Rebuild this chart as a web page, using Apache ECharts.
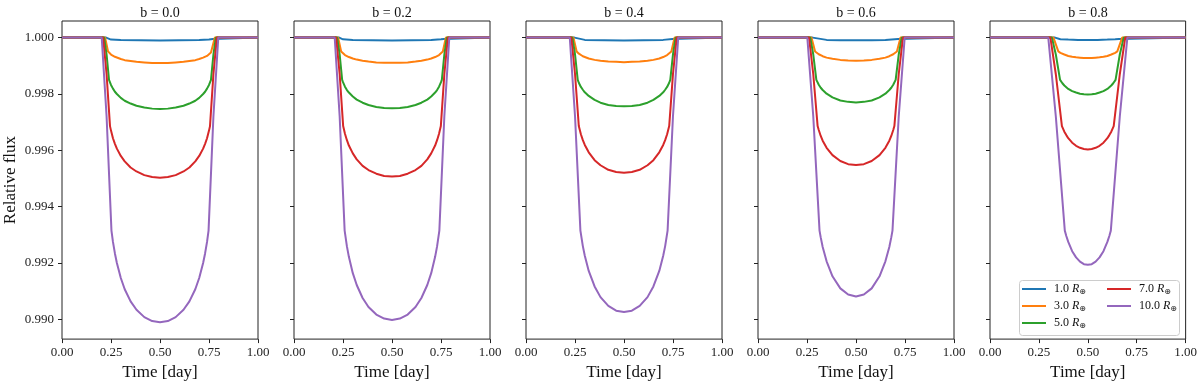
<!DOCTYPE html>
<html>
<head>
<meta charset="utf-8">
<script src="https://cdn.jsdelivr.net/npm/echarts@6/dist/echarts.min.js"></script>
<style>
  html, body { margin: 0; padding: 0; background: #fff; }
  #chart { width: 1200px; height: 386px; }
</style>
</head>
<body>
<div id="chart"></div>
<script>
// impact parameters (one panel each) and planet radii (one curve each)
var impacts = ['0.0', '0.2', '0.4', '0.6', '0.8'];
var radii = ['1.0', '3.0', '5.0', '7.0', '10.0'];
var colors = ['#1f77b4', '#ff7f0e', '#2ca02c', '#d62728', '#9467bd'];
var yTicks = [0.990, 0.992, 0.994, 0.996, 0.998, 1.000];

// b = 0.0  [time, relative flux]
var b0_r1 = [[0,1],[0.2250,1],[0.2300,0.99995],[0.25,0.99993],[0.30,0.99992],[0.40,0.99991],[0.50,0.99990],[0.60,0.99991],[0.70,0.99992],[0.75,0.99993],[0.7700,0.99995],[0.7750,1],[1,1]];
var b0_r3 = [[0,1],[0.2201,1],[0.2349,0.99951],[0.24,0.99947],[0.25,0.99940],[0.26,0.99935],[0.27,0.99932],[0.28,0.99929],[0.30,0.99924],[0.32,0.99920],[0.35,0.99917],[0.38,0.99914],[0.42,0.99912],[0.46,0.99910],[0.50,0.99910],[0.54,0.99910],[0.58,0.99912],[0.62,0.99914],[0.65,0.99917],[0.68,0.99920],[0.70,0.99924],[0.72,0.99929],[0.73,0.99932],[0.74,0.99935],[0.75,0.99940],[0.76,0.99947],[0.7651,0.99951],[0.7799,1],[1,1]];
var b0_r5 = [[0,1],[0.2151,1],[0.2275,0.99940],[0.2399,0.99850],[0.25,0.99832],[0.26,0.99819],[0.27,0.99808],[0.28,0.99800],[0.30,0.99786],[0.32,0.99776],[0.35,0.99766],[0.38,0.99758],[0.42,0.99752],[0.46,0.99748],[0.50,0.99747],[0.54,0.99748],[0.58,0.99752],[0.62,0.99758],[0.65,0.99766],[0.68,0.99776],[0.70,0.99786],[0.72,0.99800],[0.73,0.99808],[0.74,0.99819],[0.75,0.99832],[0.7601,0.99850],[0.7725,0.99940],[0.7849,1],[1,1]];
var b0_r7 = [[0,1],[0.2101,1],[0.2275,0.99870],[0.2449,0.99686],[0.25,0.99670],[0.26,0.99643],[0.27,0.99623],[0.28,0.99606],[0.30,0.99580],[0.32,0.99561],[0.35,0.99539],[0.38,0.99525],[0.42,0.99512],[0.46,0.99505],[0.50,0.99503],[0.54,0.99505],[0.58,0.99512],[0.62,0.99525],[0.65,0.99539],[0.68,0.99561],[0.70,0.99580],[0.72,0.99606],[0.73,0.99623],[0.74,0.99643],[0.75,0.99670],[0.7551,0.99686],[0.7725,0.99870],[0.7899,1],[1,1]];
var b0_r10 = [[0,1],[0.2027,1],[0.2275,0.99720],[0.2523,0.99315],[0.26,0.99275],[0.27,0.99234],[0.28,0.99200],[0.30,0.99147],[0.32,0.99107],[0.35,0.99064],[0.38,0.99034],[0.42,0.99008],[0.46,0.98994],[0.50,0.98990],[0.54,0.98994],[0.58,0.99008],[0.62,0.99034],[0.65,0.99064],[0.68,0.99107],[0.70,0.99147],[0.72,0.99200],[0.73,0.99234],[0.74,0.99275],[0.7477,0.99315],[0.7725,0.99720],[0.7973,1],[1,1]];

// b = 0.2
var b2_r1 = [[0,1],[0.2305,1],[0.2355,0.99995],[0.25,0.99994],[0.30,0.99992],[0.40,0.99991],[0.50,0.99990],[0.60,0.99991],[0.70,0.99992],[0.75,0.99994],[0.7645,0.99995],[0.7695,1],[1,1]];
var b2_r3 = [[0,1],[0.2254,1],[0.2406,0.99951],[0.25,0.99944],[0.26,0.99938],[0.27,0.99934],[0.28,0.99931],[0.30,0.99926],[0.32,0.99922],[0.35,0.99918],[0.38,0.99915],[0.42,0.99912],[0.46,0.99911],[0.50,0.99911],[0.54,0.99911],[0.58,0.99912],[0.62,0.99915],[0.65,0.99918],[0.68,0.99922],[0.70,0.99926],[0.72,0.99931],[0.73,0.99934],[0.74,0.99938],[0.75,0.99944],[0.7594,0.99951],[0.7746,1],[1,1]];
var b2_r5 = [[0,1],[0.2203,1],[0.2330,0.99940],[0.2457,0.99850],[0.25,0.99842],[0.26,0.99826],[0.27,0.99814],[0.28,0.99805],[0.30,0.99791],[0.32,0.99780],[0.35,0.99769],[0.38,0.99761],[0.42,0.99754],[0.46,0.99750],[0.50,0.99749],[0.54,0.99750],[0.58,0.99754],[0.62,0.99761],[0.65,0.99769],[0.68,0.99780],[0.70,0.99791],[0.72,0.99805],[0.73,0.99814],[0.74,0.99826],[0.75,0.99842],[0.7543,0.99850],[0.7670,0.99940],[0.7797,1],[1,1]];
var b2_r7 = [[0,1],[0.2152,1],[0.2330,0.99870],[0.2508,0.99686],[0.26,0.99659],[0.27,0.99636],[0.28,0.99617],[0.30,0.99589],[0.32,0.99568],[0.35,0.99545],[0.38,0.99530],[0.42,0.99517],[0.46,0.99509],[0.50,0.99507],[0.54,0.99509],[0.58,0.99517],[0.62,0.99530],[0.65,0.99545],[0.68,0.99568],[0.70,0.99589],[0.72,0.99617],[0.73,0.99636],[0.74,0.99659],[0.7492,0.99686],[0.7670,0.99870],[0.7848,1],[1,1]];
var b2_r10 = [[0,1],[0.2077,1],[0.2330,0.99720],[0.2584,0.99315],[0.27,0.99259],[0.28,0.99222],[0.30,0.99164],[0.32,0.99122],[0.35,0.99076],[0.38,0.99044],[0.42,0.99017],[0.46,0.99003],[0.50,0.98998],[0.54,0.99003],[0.58,0.99017],[0.62,0.99044],[0.65,0.99076],[0.68,0.99122],[0.70,0.99164],[0.72,0.99222],[0.73,0.99259],[0.7416,0.99315],[0.7670,0.99720],[0.7923,1],[1,1]];

// b = 0.4
var b4_r1 = [[0,1],[0.2475,1],[0.2530,0.99995],[0.30,0.99992],[0.40,0.99991],[0.50,0.99990],[0.60,0.99991],[0.70,0.99992],[0.7470,0.99995],[0.7525,1],[1,1]];
var b4_r3 = [[0,1],[0.2422,1],[0.2584,0.99951],[0.27,0.99943],[0.28,0.99938],[0.29,0.99934],[0.30,0.99931],[0.32,0.99926],[0.35,0.99921],[0.38,0.99918],[0.42,0.99915],[0.46,0.99914],[0.50,0.99913],[0.54,0.99914],[0.58,0.99915],[0.62,0.99918],[0.65,0.99921],[0.68,0.99926],[0.70,0.99931],[0.71,0.99934],[0.72,0.99938],[0.73,0.99943],[0.7416,0.99951],[0.7578,1],[1,1]];
var b4_r5 = [[0,1],[0.2367,1],[0.2502,0.99940],[0.2639,0.99850],[0.27,0.99839],[0.28,0.99825],[0.29,0.99815],[0.30,0.99806],[0.32,0.99793],[0.35,0.99779],[0.38,0.99769],[0.42,0.99761],[0.46,0.99757],[0.50,0.99756],[0.54,0.99757],[0.58,0.99761],[0.62,0.99769],[0.65,0.99779],[0.68,0.99793],[0.70,0.99806],[0.71,0.99815],[0.72,0.99825],[0.73,0.99839],[0.7361,0.99850],[0.7498,0.99940],[0.7633,1],[1,1]];
var b4_r7 = [[0,1],[0.2313,1],[0.2502,0.99870],[0.2694,0.99686],[0.28,0.99657],[0.29,0.99636],[0.30,0.99619],[0.32,0.99593],[0.35,0.99565],[0.38,0.99547],[0.42,0.99531],[0.46,0.99523],[0.50,0.99520],[0.54,0.99523],[0.58,0.99531],[0.62,0.99547],[0.65,0.99565],[0.68,0.99593],[0.70,0.99619],[0.71,0.99636],[0.72,0.99657],[0.7306,0.99686],[0.7498,0.99870],[0.7687,1],[1,1]];
var b4_r10 = [[0,1],[0.2234,1],[0.2502,0.99720],[0.2776,0.99315],[0.29,0.99260],[0.30,0.99226],[0.32,0.99172],[0.35,0.99117],[0.38,0.99079],[0.42,0.99048],[0.46,0.99031],[0.50,0.99026],[0.54,0.99031],[0.58,0.99048],[0.62,0.99079],[0.65,0.99117],[0.68,0.99172],[0.70,0.99226],[0.71,0.99260],[0.7224,0.99315],[0.7498,0.99720],[0.7766,1],[1,1]];

// b = 0.6
var b6_r1 = [[0,1],[0.2789,1],[0.2851,0.99995],[0.35,0.99992],[0.42,0.99991],[0.50,0.99991],[0.58,0.99991],[0.65,0.99992],[0.7149,0.99995],[0.7211,1],[1,1]];
var b6_r3 = [[0,1],[0.2728,1],[0.2913,0.99951],[0.30,0.99945],[0.31,0.99941],[0.32,0.99937],[0.33,0.99934],[0.35,0.99929],[0.38,0.99925],[0.42,0.99921],[0.46,0.99919],[0.50,0.99918],[0.54,0.99919],[0.58,0.99921],[0.62,0.99925],[0.65,0.99929],[0.67,0.99934],[0.68,0.99937],[0.69,0.99941],[0.70,0.99945],[0.7087,0.99951],[0.7272,1],[1,1]];
var b6_r5 = [[0,1],[0.2667,1],[0.2820,0.99940],[0.2977,0.99850],[0.31,0.99833],[0.32,0.99822],[0.33,0.99814],[0.35,0.99801],[0.38,0.99788],[0.42,0.99777],[0.46,0.99772],[0.50,0.99770],[0.54,0.99772],[0.58,0.99777],[0.62,0.99788],[0.65,0.99801],[0.67,0.99814],[0.68,0.99822],[0.69,0.99833],[0.7023,0.99850],[0.7180,0.99940],[0.7333,1],[1,1]];
var b6_r7 = [[0,1],[0.2606,1],[0.2820,0.99870],[0.3042,0.99686],[0.31,0.99672],[0.32,0.99651],[0.33,0.99634],[0.35,0.99609],[0.38,0.99583],[0.42,0.99562],[0.46,0.99551],[0.50,0.99548],[0.54,0.99551],[0.58,0.99562],[0.62,0.99583],[0.65,0.99609],[0.67,0.99634],[0.68,0.99651],[0.69,0.99672],[0.6958,0.99686],[0.7180,0.99870],[0.7394,1],[1,1]];
var b6_r10 = [[0,1],[0.2517,1],[0.2820,0.99720],[0.3139,0.99315],[0.32,0.99291],[0.33,0.99257],[0.35,0.99206],[0.38,0.99153],[0.42,0.99110],[0.46,0.99088],[0.50,0.99081],[0.54,0.99088],[0.58,0.99110],[0.62,0.99153],[0.65,0.99206],[0.67,0.99257],[0.68,0.99291],[0.6861,0.99315],[0.7180,0.99720],[0.7483,1],[1,1]];

// b = 0.8
var b8_r1 = [[0,1],[0.3324,1],[0.3407,0.99995],[0.36,0.99994],[0.40,0.99993],[0.45,0.99992],[0.50,0.99992],[0.55,0.99992],[0.60,0.99993],[0.64,0.99994],[0.6593,0.99995],[0.6676,1],[1,1]];
var b8_r3 = [[0,1],[0.3244,1],[0.3492,0.99951],[0.36,0.99946],[0.37,0.99942],[0.38,0.99940],[0.39,0.99937],[0.40,0.99935],[0.42,0.99932],[0.44,0.99930],[0.46,0.99929],[0.48,0.99928],[0.50,0.99928],[0.52,0.99928],[0.54,0.99929],[0.56,0.99930],[0.58,0.99932],[0.60,0.99935],[0.61,0.99937],[0.62,0.99940],[0.63,0.99942],[0.64,0.99946],[0.6508,0.99951],[0.6756,1],[1,1]];
var b8_r5 = [[0,1],[0.3165,1],[0.3365,0.99940],[0.3582,0.99850],[0.37,0.99838],[0.38,0.99830],[0.39,0.99824],[0.40,0.99818],[0.42,0.99810],[0.44,0.99805],[0.46,0.99801],[0.48,0.99799],[0.50,0.99798],[0.52,0.99799],[0.54,0.99801],[0.56,0.99805],[0.58,0.99810],[0.60,0.99818],[0.61,0.99824],[0.62,0.99830],[0.63,0.99838],[0.6418,0.99850],[0.6635,0.99940],[0.6835,1],[1,1]];
var b8_r7 = [[0,1],[0.3088,1],[0.3365,0.99870],[0.3676,0.99686],[0.38,0.99666],[0.39,0.99654],[0.40,0.99643],[0.42,0.99627],[0.44,0.99616],[0.46,0.99609],[0.48,0.99605],[0.50,0.99603],[0.52,0.99605],[0.54,0.99609],[0.56,0.99616],[0.58,0.99627],[0.60,0.99643],[0.61,0.99654],[0.62,0.99666],[0.6324,0.99686],[0.6635,0.99870],[0.6912,1],[1,1]];
var b8_r10 = [[0,1],[0.2979,1],[0.3365,0.99720],[0.3824,0.99315],[0.39,0.99296],[0.40,0.99275],[0.42,0.99242],[0.44,0.99220],[0.46,0.99205],[0.48,0.99196],[0.50,0.99194],[0.52,0.99196],[0.54,0.99205],[0.56,0.99220],[0.58,0.99242],[0.60,0.99275],[0.61,0.99296],[0.6176,0.99315],[0.6635,0.99720],[0.7021,1],[1,1]];

var panels = [
  [b0_r1, b0_r3, b0_r5, b0_r7, b0_r10],
  [b2_r1, b2_r3, b2_r5, b2_r7, b2_r10],
  [b4_r1, b4_r3, b4_r5, b4_r7, b4_r10],
  [b6_r1, b6_r3, b6_r5, b6_r7, b6_r10],
  [b8_r1, b8_r3, b8_r5, b8_r7, b8_r10]
];

var serif = 'Liberation Serif';
var grids = [], xAxes = [], yAxes = [], series = [], graphics = [];

for (var i = 0; i < panels.length; i++) {
  var left = 62 + 232 * i;
  grids.push({
    left: left, top: 21, width: 196, height: 319.5,
    show: true, borderColor: '#222', borderWidth: 1
  });
  xAxes.push({
    type: 'value', gridIndex: i, min: 0, max: 1, interval: 0.25,
    name: 'Time [day]', nameLocation: 'middle', nameGap: 24,
    nameTextStyle: { fontFamily: serif, fontSize: 17, color: '#111' },
    axisLine: { show: false },
    axisTick: { length: 4, lineStyle: { color: '#222' } },
    axisLabel: {
      margin: 7, fontFamily: serif, fontSize: 13, color: '#222',
      formatter: function (v) { return v.toFixed(2); }
    },
    splitLine: { show: false }
  });
  yAxes.push({
    type: 'value', gridIndex: i, min: 0.98930, max: 1.00059,
    name: i === 0 ? 'Relative flux' : '', nameLocation: 'middle', nameGap: 43,
    nameTextStyle: { fontFamily: serif, fontSize: 17, color: '#111' },
    axisLine: { show: false },
    axisTick: { length: 4, customValues: yTicks, lineStyle: { color: '#222' } },
    axisLabel: {
      show: i === 0, customValues: yTicks, margin: 8,
      fontFamily: serif, fontSize: 13, color: '#222',
      formatter: function (v) { return v.toFixed(3); }
    },
    splitLine: { show: false }
  });
  for (var j = 0; j < radii.length; j++) {
    series.push({
      type: 'line', name: radii[j], xAxisIndex: i, yAxisIndex: i,
      data: panels[i][j], showSymbol: false, symbol: 'none',
      color: colors[j], lineStyle: { width: 2, color: colors[j] },
      z: 2 + j
    });
  }
  // panel title
  graphics.push({
    type: 'text', x: left + 98, y: 13, z: 10,
    style: { text: 'b = ' + impacts[i], font: '14px "Liberation Serif"', fill: '#111',
             textAlign: 'center', textVerticalAlign: 'middle' }
  });
}

// legend frame inside the last panel
graphics.push({
  type: 'rect', z: 20,
  shape: { x: 1019.5, y: 280.5, width: 160, height: 55, r: 3 },
  style: { fill: 'rgba(255,255,255,0.8)', stroke: '#cccccc', lineWidth: 1 }
});

var legendText = {
  fontFamily: serif, fontSize: 12, color: '#111', lineHeight: 14, padding: [0, 0, 0, 3],
  rich: {
    n: { fontFamily: serif, fontSize: 12, lineHeight: 14 },
    r: { fontFamily: serif, fontSize: 12, fontStyle: 'italic', lineHeight: 14 },
    s: { fontFamily: 'DejaVu Sans', fontSize: 8, verticalAlign: 'bottom', lineHeight: 11 }
  }
};
function legendFmt(name) { return '{n|' + name + ' }{r|R}{s|⊕}'; }

var option = {
  animation: false,
  grid: grids,
  xAxis: xAxes,
  yAxis: yAxes,
  legend: [
    { data: radii.slice(0, 3), orient: 'vertical', left: 1022, top: 282, z: 30,
      icon: 'rect', itemWidth: 24, itemHeight: 2, itemGap: 3, padding: 0,
      textStyle: legendText, formatter: legendFmt, selectedMode: false },
    { data: radii.slice(3), orient: 'vertical', left: 1107, top: 282, z: 30,
      icon: 'rect', itemWidth: 24, itemHeight: 2, itemGap: 3, padding: 0,
      textStyle: legendText, formatter: legendFmt, selectedMode: false }
  ],
  graphic: graphics,
  series: series
};

var myChart = echarts.init(document.getElementById('chart'));
myChart.setOption(option);
</script>
</body>
</html>
